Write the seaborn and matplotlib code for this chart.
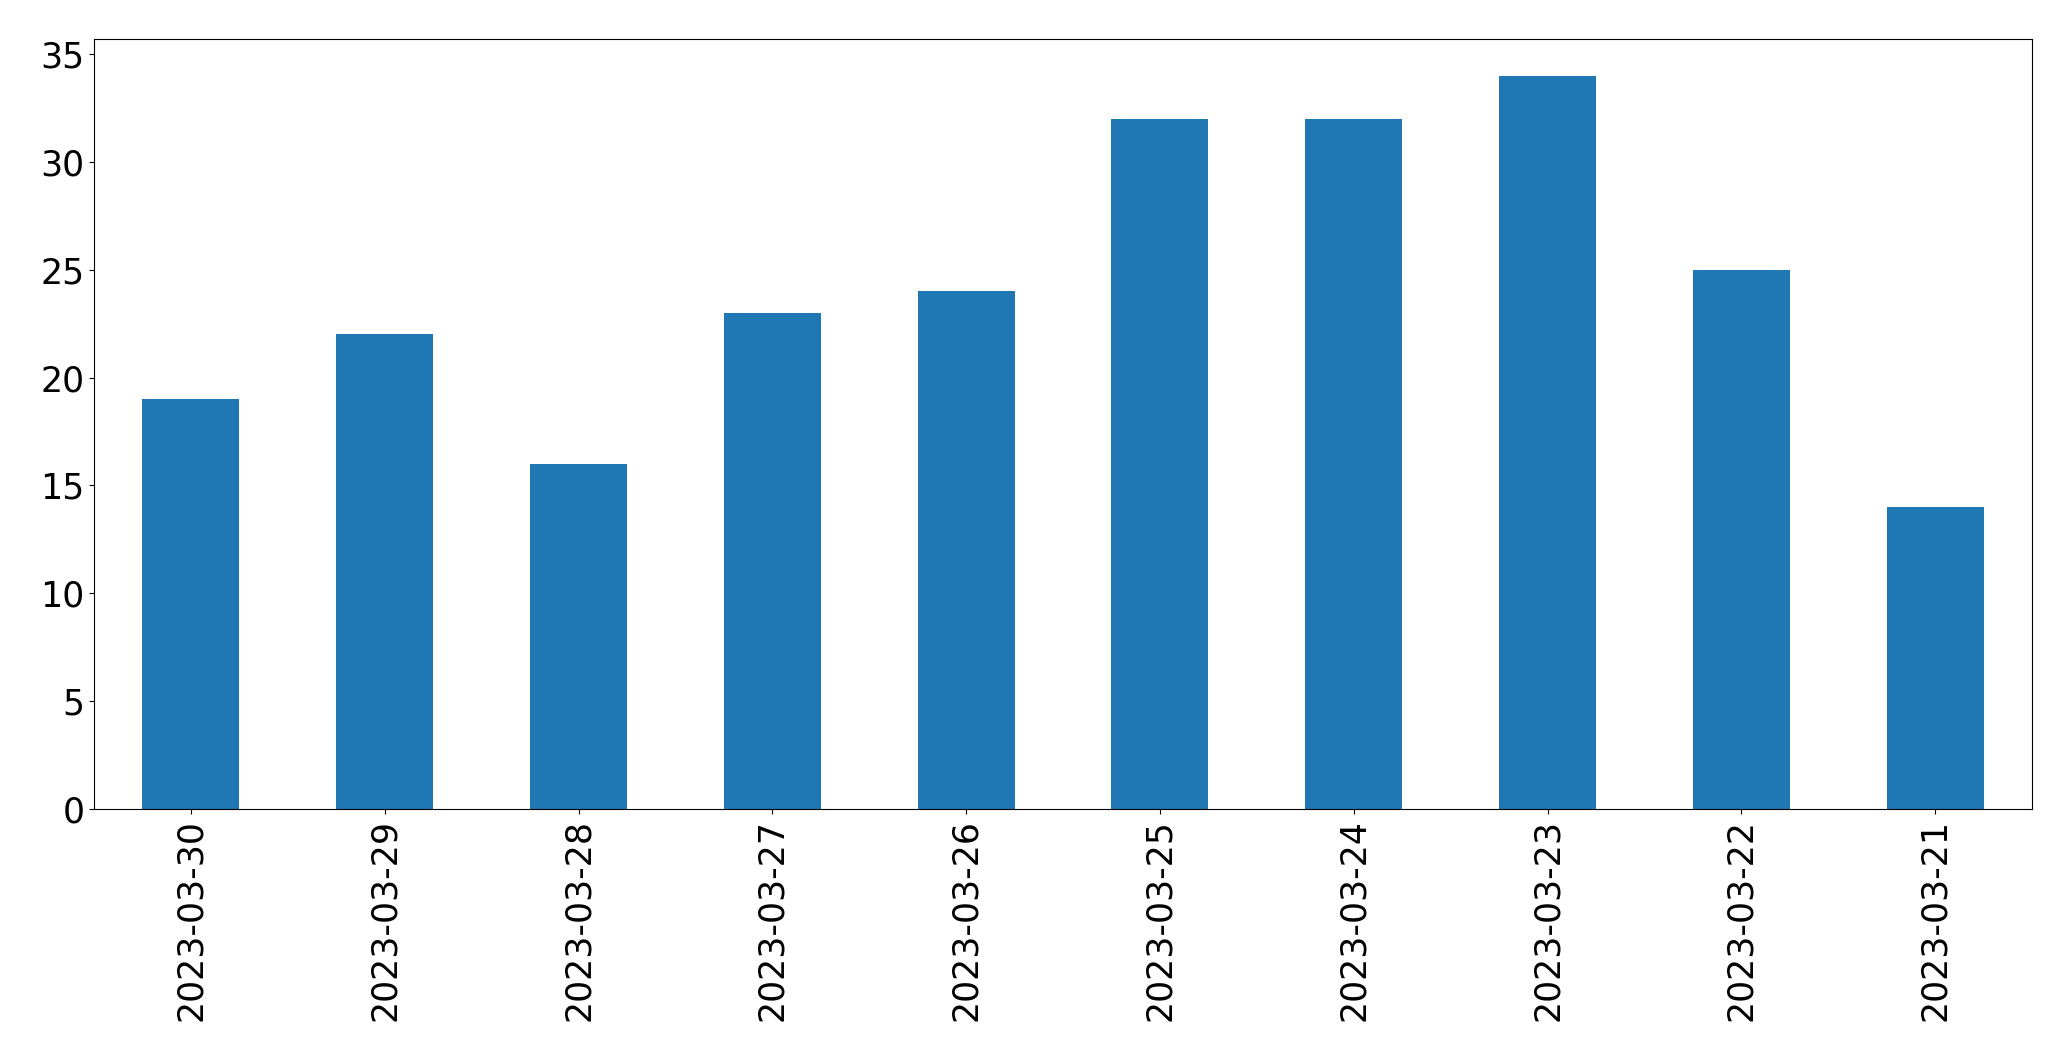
import matplotlib
matplotlib.use("Agg")
import matplotlib.pyplot as plt
import seaborn as sns
import pandas as pd

dates = ['2023-03-30', '2023-03-29', '2023-03-28', '2023-03-27', '2023-03-26',
         '2023-03-25', '2023-03-24', '2023-03-23', '2023-03-22', '2023-03-21']
counts = [19, 22, 16, 23, 24, 32, 32, 34, 25, 14]

df = pd.DataFrame({'date': dates, 'count': counts})

fig, ax = plt.subplots(figsize=(20.71, 10.61), dpi=100)
fig.subplots_adjust(left=94/2071, right=2032/2071, top=1-39/1061, bottom=1-809/1061)

# bars like a pandas bar plot
sns.barplot(data=df, x='date', y='count', color='#1f77b4', saturation=1,
            width=0.5, order=dates, linewidth=0, ax=ax)
ax.set_xlim(-0.5, len(dates) - 0.5)
ax.set_ylim(0, max(counts) * 1.05)
ax.set_xlabel('')
ax.set_ylabel('')
ax.tick_params(axis='both', labelsize=25)
ax.tick_params(axis='x', labelrotation=90)

plt.savefig('out.png', dpi=100)
